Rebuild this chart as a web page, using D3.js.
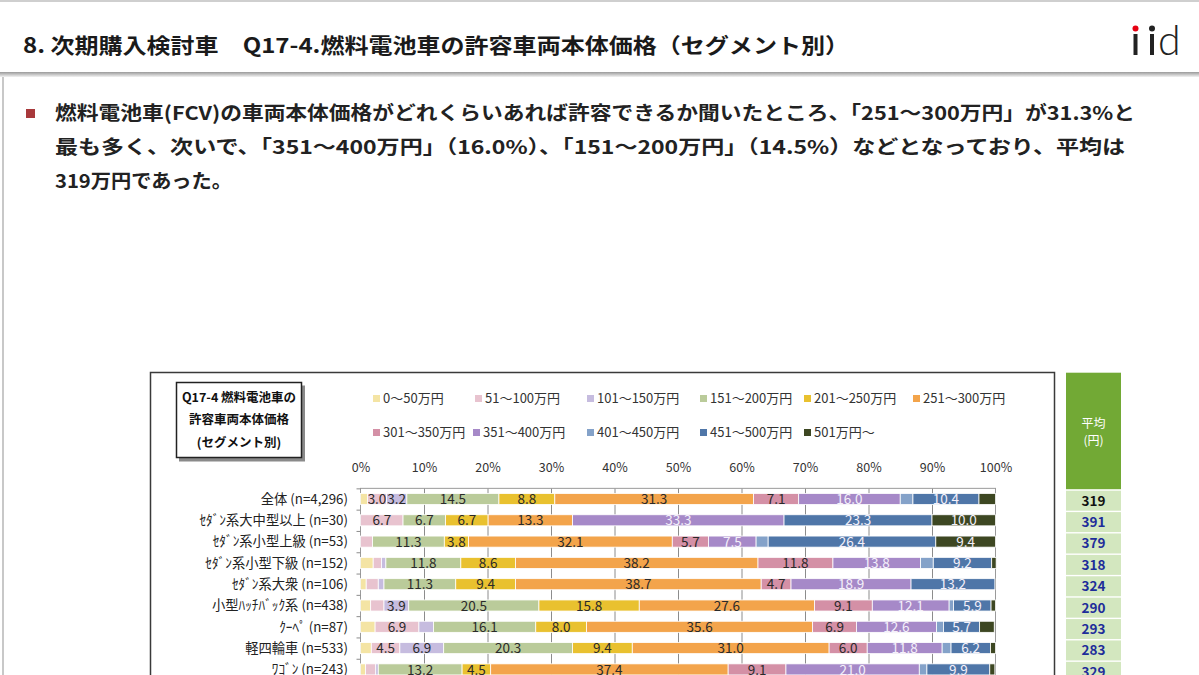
<!DOCTYPE html>
<html><head><meta charset="utf-8">
<script src="https://cdn.jsdelivr.net/npm/d3@7"></script>
<style>
html,body{margin:0;padding:0;background:#fff;}
svg{display:block;font-family:"Noto Sans CJK JP","Noto Sans",sans-serif;}
</style></head>
<body>
<svg id="c" width="1199" height="675"></svg>
<script>
// ---- data ----
const categories = ["全体 (n=4,296)","ｾﾀﾞﾝ系大中型以上 (n=30)","ｾﾀﾞﾝ系小型上級 (n=53)","ｾﾀﾞﾝ系小型下級 (n=152)","ｾﾀﾞﾝ系大衆 (n=106)","小型ﾊｯﾁﾊﾞｯｸ系 (n=438)","ｸｰﾍﾟ (n=87)","軽四輪車 (n=533)","ﾜｺﾞﾝ (n=243)"];
const seriesNames = ["0～50万円","51～100万円","101～150万円","151～200万円","201～250万円","251～300万円","301～350万円","351～400万円","401～450万円","451～500万円","501万円～"];
const s0_50    = [1.1, 0,   0,    2.0,  0.9,  1.6,  2.3,  1.7,  0.8];
const s51_100  = [3.0, 6.7, 1.9,  1.3,  1.9,  2.1,  6.9,  4.5,  1.6];
const s101_150 = [3.2, 0,   0,    0.7,  0.9,  3.9,  2.3,  6.9,  0.4];
const s151_200 = [14.5,6.7, 11.3, 11.8, 11.3, 20.5, 16.1, 20.3, 13.2];
const s201_250 = [8.8, 6.7, 3.8,  8.6,  9.4,  15.8, 8.0,  9.4,  4.5];
const s251_300 = [31.3,13.3,32.1, 38.2, 38.7, 27.6, 35.6, 31.0, 37.4];
const s301_350 = [7.1, 0,   5.7,  11.8, 4.7,  9.1,  6.9,  6.0,  9.1];
const s351_400 = [16.0,33.3,7.5,  13.8, 18.9, 12.1, 12.6, 11.8, 21.0];
const s401_450 = [2.0, 0,   1.9,  2.0,  0,    0.7,  1.1,  1.4,  1.2];
const s451_500 = [10.4,23.3,26.4, 9.2,  13.2, 5.9,  5.7,  6.2,  9.9];
const s501     = [2.6, 10.0,9.4,  0.7,  0,    0.7,  2.3,  0.8,  0.8];
const averages = [319,391,379,318,324,290,293,283,329];
const xTicks = [0,10,20,30,40,50,60,70,80,90,100];

const seriesValues = [s0_50,s51_100,s101_150,s151_200,s201_250,s251_300,s301_350,s351_400,s401_450,s451_500,s501];
const colors = ["#F4E4A4","#E8C3CF","#C6BCDF","#BACB9A","#E9C12F","#F3A44B","#D490A6","#A689C8","#84A2C9","#4F76A8","#3D4722"];
const lightText = [false,false,false,false,false,false,false,true,true,true,true];

const svg = d3.select("#c");

// ---- slide frame / header ----
const defs = svg.append("defs");
const g1 = defs.append("linearGradient").attr("id","sh").attr("x1",0).attr("y1",0).attr("x2",0).attr("y2",1);
g1.append("stop").attr("offset","0%").attr("stop-color","#9a9a9a");
g1.append("stop").attr("offset","100%").attr("stop-color","#f2f2f2");
svg.append("rect").attr("x",0).attr("y",0).attr("width",1199).attr("height",2).attr("fill","#cfcfcf");
svg.append("rect").attr("x",0).attr("y",72).attr("width",1199).attr("height",5).attr("fill","url(#sh)");
svg.append("rect").attr("x",2).attr("y",77).attr("width",2).attr("height",600).attr("fill","#c8c8c8");

svg.append("text").attr("x",23).attr("y",53).attr("font-size",21).attr("font-weight",700).attr("fill","#1a1a1a")
  .attr("textLength",826).attr("lengthAdjust","spacingAndGlyphs")
  .text("8. 次期購入検討車　Q17-4.燃料電池車の許容車両本体価格（セグメント別）");

// logo
svg.append("circle").attr("cx",1135.5).attr("cy",28.5).attr("r",3).attr("fill","#e60012");
svg.append("rect").attr("x",1133.5).attr("y",34).attr("width",4).attr("height",21).attr("fill","#222");
svg.append("circle").attr("cx",1152).attr("cy",28.5).attr("r",3).attr("fill","#222");
svg.append("rect").attr("x",1150).attr("y",34).attr("width",4).attr("height",21).attr("fill","#222");
svg.append("text").attr("x",1158).attr("y",55).attr("font-family","Lato, 'DejaVu Sans', sans-serif").attr("font-weight",300)
  .attr("font-size",41).attr("fill","#222").text("d");

// bullet text
svg.append("rect").attr("x",26).attr("y",109).attr("width",9).attr("height",9).attr("fill","#A8393B");
const bodyLines = [
  {t:"燃料電池車(FCV)の車両本体価格がどれくらいあれば許容できるか聞いたところ、「251～300万円」が31.3%と", y:120, w:1080},
  {t:"最も多く、次いで、「351～400万円」（16.0%）、「151～200万円」（14.5%）などとなっており、平均は", y:154, w:1070},
  {t:"319万円であった。", y:188, w:177}
];
svg.selectAll("text.body").data(bodyLines).join("text").attr("class","body")
  .attr("x",55).attr("y",d=>d.y).attr("font-size",19).attr("font-weight",700).attr("fill","#222")
  .attr("textLength",d=>d.w).attr("lengthAdjust","spacingAndGlyphs").text(d=>d.t);

// ---- chart frame ----
svg.append("rect").attr("x",150.5).attr("y",372.5).attr("width",904).attr("height",340)
  .attr("fill","#fff").attr("stroke","#3a3a3a").attr("stroke-width",1.5);

// title box
svg.append("rect").attr("x",179).attr("y",385.5).attr("width",126).attr("height",76).attr("fill","#8a8a8a");
svg.append("rect").attr("x",176.5).attr("y",382.5).attr("width",125).attr("height",75).attr("fill","#fff").attr("stroke","#222").attr("stroke-width",1.5);
["Q17-4 燃料電池車の","許容車両本体価格","(セグメント別)"].forEach((t,i)=>{
  svg.append("text").attr("x",239).attr("y",401.5+i*22.5).attr("text-anchor","middle")
    .attr("font-size",12.5).attr("font-weight",700).attr("fill","#111").text(t);
});

// legend
const legX = [373,475,587,700,804,913];
seriesNames.forEach((n,i)=>{
  const row = i<6?0:1, col = i<6?i:i-6;
  const lx = row===0 ? legX[col] : [373,473,587,700,804][col];
  const ly = row===0 ? 398 : 432;
  svg.append("rect").attr("x",lx).attr("y",ly-3).attr("width",7).attr("height",7).attr("fill",colors[i]);
  svg.append("text").attr("x",lx+10).attr("y",ly+4.5).attr("font-size",13).attr("fill","#333").text(n);
});

// ---- plot ----
const x = d3.scaleLinear().domain([0,100]).range([360.5,995.5]);
const plotTop = 488.35, step = 21.3;
const y = d3.scaleBand().domain(categories).range([plotTop, plotTop+step*categories.length]).paddingInner(0.48).paddingOuter(0.24);

// gridlines
svg.append("g").selectAll("line").data(xTicks.slice(1,10)).join("line")
  .attr("x1",d=>x(d)+0.5).attr("x2",d=>x(d)+0.5).attr("y1",plotTop).attr("y2",700)
  .attr("stroke","#8c8c8c").attr("stroke-width",1);
// plot border
svg.append("rect").attr("x",x(0)).attr("y",plotTop).attr("width",x(100)-x(0)).attr("height",400)
  .attr("fill","none").attr("stroke","#9a9a9a").attr("stroke-width",1);
// category ticks
svg.append("g").selectAll("line").data(d3.range(categories.length+1)).join("line")
  .attr("x1",x(0)-4).attr("x2",x(0)).attr("y1",d=>plotTop+d*step+0.5).attr("y2",d=>plotTop+d*step+0.5)
  .attr("stroke","#8c8c8c");

// x axis labels
const ax = svg.append("g").attr("transform",`translate(0,${472})`)
  .call(d3.axisTop(x).tickValues(xTicks).tickSize(0).tickPadding(0).tickFormat(d=>d+"%"));
ax.select(".domain").remove();
ax.selectAll("text").attr("font-size",12.5).attr("fill","#333").attr("font-family","'Noto Sans CJK JP',sans-serif");

// category labels
svg.append("g").selectAll("text").data(categories).join("text")
  .attr("x",348).attr("y",d=>y(d)+y.bandwidth()/2).attr("dy","0.36em").attr("text-anchor","end")
  .attr("font-size",13.3).attr("fill","#222").text(d=>d);

// stacked bars
const rows = categories.map((c,ci)=>{
  const o = {cat:c};
  seriesNames.forEach((n,si)=>o[n]=seriesValues[si][ci]);
  return o;
});
const stack = d3.stack().keys(seriesNames)(rows);
const gs = svg.append("g").selectAll("g").data(stack).join("g").attr("fill",(d,i)=>colors[i]);
gs.selectAll("rect").data(d=>d).join("rect")
  .attr("x",d=>x(d[0])).attr("width",d=>Math.max(0,x(d[1])-x(d[0])))
  .attr("y",d=>y(d.data.cat)).attr("height",y.bandwidth())
  .attr("stroke","#fff").attr("stroke-width",0.8);
gs.each(function(s,si){
  const key = s.key;
  d3.select(this).selectAll("text").data(s.filter(d=>d.data[key]>=3)).join("text")
    .attr("x",d=>(x(d[0])+x(d[1]))/2).attr("y",d=>y(d.data.cat)+y.bandwidth()/2).attr("dy","0.38em")
    .attr("text-anchor","middle").attr("font-size",13.5)
    .attr("fill",lightText[si]?"#f4f0fa":"#2a2a2a")
    .text(d=>d.data[key].toFixed(1));
});

// ---- average column ----
svg.append("rect").attr("x",1066).attr("y",372.7).attr("width",55).attr("height",116.5).attr("fill","#72A935");
svg.append("text").attr("x",1093.5).attr("y",428).attr("text-anchor","middle").attr("font-size",12).attr("fill","#fff").text("平均");
svg.append("text").attr("x",1093.5).attr("y",445).attr("text-anchor","middle").attr("font-size",12).attr("fill","#fff").text("(円)");
const ay = d3.scaleBand().domain(categories).range([490.7, 490.7+21.25*categories.length]).paddingInner(0.06).paddingOuter(0.0);
svg.append("g").selectAll("rect").data(categories).join("rect")
  .attr("x",1066).attr("width",55).attr("y",d=>ay(d)).attr("height",20).attr("fill","#D3E7BF");
svg.append("g").selectAll("text").data(averages).join("text")
  .attr("x",1093.5).attr("y",(d,i)=>ay(categories[i])+10).attr("dy","0.37em").attr("text-anchor","middle")
  .attr("font-size",13.5).attr("font-weight",700).attr("fill",(d,i)=>i===0?"#111":"#1E2D9A").text(d=>d);
</script>
</body></html>
